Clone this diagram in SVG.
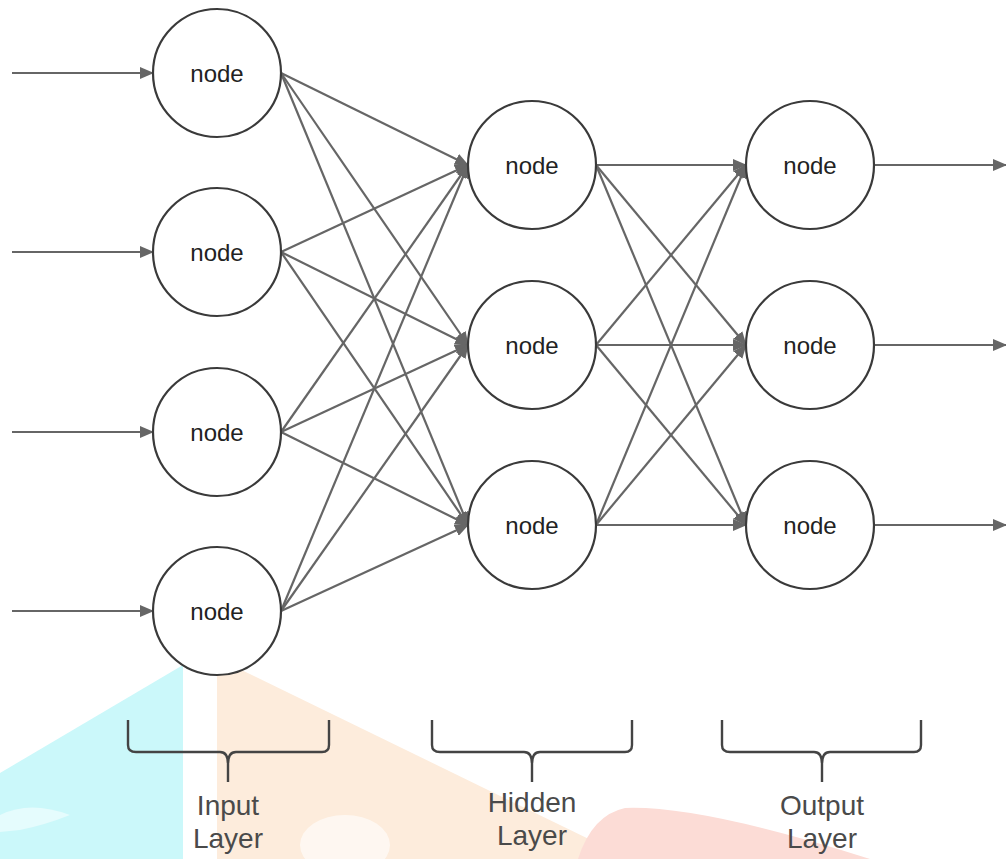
<svg xmlns="http://www.w3.org/2000/svg" width="1006" height="859" viewBox="0 0 1006 859">
<style>
.node circle{fill:#fff;stroke:#3a3a3a;stroke-width:2.2}
.node text{font-family:"Liberation Sans",Arial,sans-serif;font-size:24px;fill:#222;text-anchor:middle}
.conn line{stroke:#666;stroke-width:2.2;marker-end:url(#ah)}
.brace{fill:none;stroke:#444;stroke-width:2.4}
.lbl{font-family:"Liberation Sans",Arial,sans-serif;font-size:28px;fill:#4a4a4a;text-anchor:middle}
</style>
<defs>
<marker id="ah" markerUnits="userSpaceOnUse" markerWidth="14" markerHeight="12" refX="13" refY="6" orient="auto">
<path d="M0,0 L14,6 L0,12 z" fill="#666"/>
</marker>
</defs>
<rect width="1006" height="859" fill="#fff"/>
<g id="watermark">
<polygon points="0,773 183,665 183,859 0,859" fill="#cbf8fa"/>
<polygon points="217,662 225,662 630,859 217,859" fill="#fdecdc"/>
<path d="M578,859 Q592,815 625,808 Q700,805 870,859 Z" fill="#fcdcd6"/>
<ellipse cx="345" cy="845" rx="45" ry="30" fill="#fff" opacity="0.6"/>
<path d="M0,815 Q30,800 70,815 Q45,825 20,830 L0,832 Z" fill="#fff" opacity="0.5"/>
</g>
<g id="connectors" class="conn">
<line x1="12" y1="73" x2="153" y2="73"/>
<line x1="12" y1="252" x2="153" y2="252"/>
<line x1="12" y1="432" x2="153" y2="432"/>
<line x1="12" y1="611" x2="153" y2="611"/>
<line x1="281" y1="73" x2="468" y2="165"/>
<line x1="281" y1="73" x2="468" y2="345"/>
<line x1="281" y1="73" x2="468" y2="525"/>
<line x1="281" y1="252" x2="468" y2="165"/>
<line x1="281" y1="252" x2="468" y2="345"/>
<line x1="281" y1="252" x2="468" y2="525"/>
<line x1="281" y1="432" x2="468" y2="165"/>
<line x1="281" y1="432" x2="468" y2="345"/>
<line x1="281" y1="432" x2="468" y2="525"/>
<line x1="281" y1="611" x2="468" y2="165"/>
<line x1="281" y1="611" x2="468" y2="345"/>
<line x1="281" y1="611" x2="468" y2="525"/>
<line x1="596" y1="165" x2="746" y2="165"/>
<line x1="596" y1="165" x2="746" y2="345"/>
<line x1="596" y1="165" x2="746" y2="525"/>
<line x1="596" y1="345" x2="746" y2="165"/>
<line x1="596" y1="345" x2="746" y2="345"/>
<line x1="596" y1="345" x2="746" y2="525"/>
<line x1="596" y1="525" x2="746" y2="165"/>
<line x1="596" y1="525" x2="746" y2="345"/>
<line x1="596" y1="525" x2="746" y2="525"/>
<line x1="874" y1="165" x2="1006" y2="165"/>
<line x1="874" y1="345" x2="1006" y2="345"/>
<line x1="874" y1="525" x2="1006" y2="525"/>
</g>
<g id="in1" class="node"><circle cx="217" cy="73" r="64"/><text x="217" y="81.5">node</text></g>
<g id="in2" class="node"><circle cx="217" cy="252" r="64"/><text x="217" y="260.5">node</text></g>
<g id="in3" class="node"><circle cx="217" cy="432" r="64"/><text x="217" y="440.5">node</text></g>
<g id="in4" class="node"><circle cx="217" cy="611" r="64"/><text x="217" y="619.5">node</text></g>
<g id="hid1" class="node"><circle cx="532" cy="165" r="64"/><text x="532" y="173.5">node</text></g>
<g id="hid2" class="node"><circle cx="532" cy="345" r="64"/><text x="532" y="353.5">node</text></g>
<g id="hid3" class="node"><circle cx="532" cy="525" r="64"/><text x="532" y="533.5">node</text></g>
<g id="out1" class="node"><circle cx="810" cy="165" r="64"/><text x="810" y="173.5">node</text></g>
<g id="out2" class="node"><circle cx="810" cy="345" r="64"/><text x="810" y="353.5">node</text></g>
<g id="out3" class="node"><circle cx="810" cy="525" r="64"/><text x="810" y="533.5">node</text></g>
<g id="input-layer">
<path class="brace" d="M128,720 L128,745 Q128,752 136,752 L220,752 Q228,752 228,764 L228,782 M228,764 Q228,752 236,752 L322,752 Q329,752 329,745 L329,720"/>
<text class="lbl" x="228" y="815">Input</text>
<text class="lbl" x="228" y="848">Layer</text>
</g>
<g id="hidden-layer">
<path class="brace" d="M432,720 L432,745 Q432,752 440,752 L524,752 Q532,752 532,764 L532,782 M532,764 Q532,752 540,752 L625,752 Q632,752 632,745 L632,720"/>
<text class="lbl" x="532" y="812">Hidden</text>
<text class="lbl" x="532" y="845">Layer</text>
</g>
<g id="output-layer">
<path class="brace" d="M722,720 L722,745 Q722,752 730,752 L814,752 Q822,752 822,764 L822,782 M822,764 Q822,752 830,752 L914,752 Q921,752 921,745 L921,720"/>
<text class="lbl" x="822" y="815">Output</text>
<text class="lbl" x="822" y="848">Layer</text>
</g>
</svg>
